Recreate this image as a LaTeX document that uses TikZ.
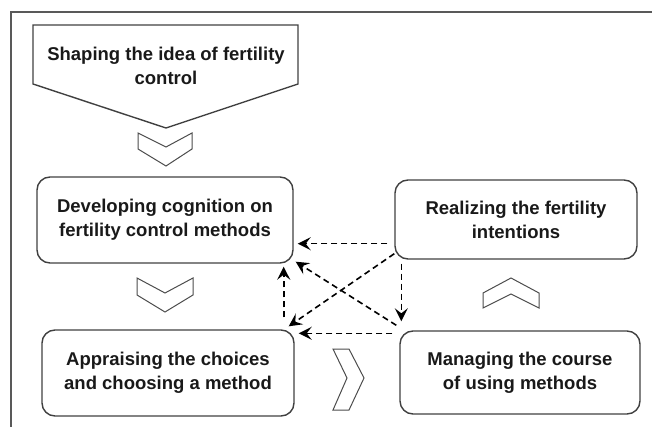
\documentclass[tikz,border=0pt]{standalone}
\usepackage{fontspec}
\setmainfont{Liberation Sans}
\usetikzlibrary{arrows.meta}
\begin{document}
\begin{tikzpicture}[x=1pt, y=-1pt,
    label text/.style={align=center, inner sep=0pt, text=black!90, font=\fontsize{18.5}{24}\selectfont\bfseries},
    stage/.style={label text, draw=black!75, line width=1.4pt, rounded corners=13pt},
    chev/.style={draw=black!70, line width=1pt},
    link/.style={draw=black, line width=1.6pt, dash pattern=on 6pt off 4pt, -{Stealth[length=13pt, width=13pt, inset=5pt]}}]
    \useasboundingbox (0,0) rectangle (652,427);
    \draw[black!65, line width=1.5pt] (652,12) -- (11,12) -- (11,427);
    % top pentagon
    \draw[draw=black!75, line width=1.4pt] (33,25) -- (298,25) -- (298,84) -- (166,128) -- (33,84) -- cycle;
    \node[label text] (idea) at (166,66) {Shaping the idea of fertility\\control};
    % stages
    \node[stage, minimum width=256pt, minimum height=86pt] (dev) at (165,220) {Developing cognition on\\fertility control methods};
    \node[stage, minimum width=242pt, minimum height=79pt] (real) at (516,219.5) {Realizing the fertility\\intentions};
    \node[stage, minimum width=252pt, minimum height=86pt] (appr) at (168,373) {Appraising the choices\\and choosing a method};
    \node[stage, minimum width=240pt, minimum height=83pt] (man) at (520,372.5) {Managing the course\\of using methods};
    % chevrons
    \draw[chev] (138,133) -- (166,147) -- (192,133) -- (192,149) -- (166,166) -- (138,149) -- cycle;
    \draw[chev] (137,278) -- (165,293) -- (193,278) -- (193,295) -- (165,312) -- (137,295) -- cycle;
    \draw[chev] (333,349) -- (349,349) -- (364,378) -- (349,410) -- (333,410) -- (347,378) -- cycle;
    \draw[chev] (483,293) -- (511,278) -- (539,293) -- (539,308) -- (511,294) -- (483,308) -- cycle;
    % feedback links
    \draw[link] ([shift={(-7,-16)}]real.south west) -- ([shift={(4,-20)}]dev.south east);
    \draw[link] ([shift={(-7,3)}]man.north west) -- ([shift={(4,4)}]appr.north east);
    \draw[link] ([shift={(-11,-12)}]appr.north east) -- ([shift={(-10,3)}]dev.south east);
    \draw[link] ([shift={(7,4)}]real.south west) -- ([shift={(2,-9)}]man.north west);
    \draw[link] ([shift={(0,-6)}]real.south west) -- ([shift={(-6,-3)}]appr.north east);
    \draw[link] ([shift={(-3,-5)}]man.north west) -- ([shift={(2,-2)}]dev.south east);
\end{tikzpicture}
\end{document}
